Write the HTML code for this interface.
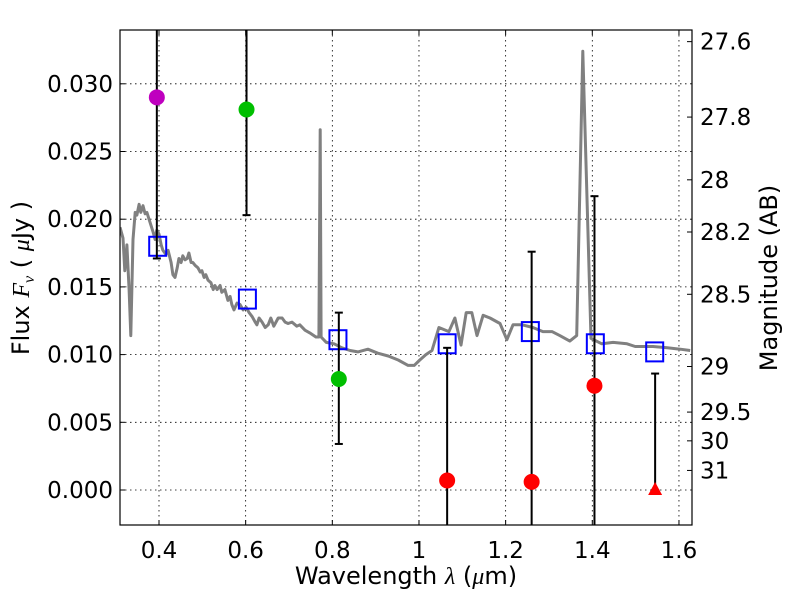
<!DOCTYPE html>
<html><head><meta charset="utf-8"><style>
html,body{margin:0;padding:0;background:#fff;}
svg{display:block;font-family:"DejaVu Sans","Liberation Sans",sans-serif;}
</style></head><body>
<svg id="chart" width="800" height="600" viewBox="0 0 800 600" xmlns="http://www.w3.org/2000/svg"></svg>
<script>
// ---- data ----
const xTicks = [0.4, 0.6, 0.8, 1.0, 1.2, 1.4, 1.6];
const xTickLabels = ["0.4", "0.6", "0.8", "1", "1.2", "1.4", "1.6"];
const yTicks = [0.000, 0.005, 0.010, 0.015, 0.020, 0.025, 0.030];
const yTickLabels = ["0.000", "0.005", "0.010", "0.015", "0.020", "0.025", "0.030"];
const magTicks = [27.6, 27.8, 28, 28.2, 28.5, 29, 29.5, 30, 31];
const magTickLabels = ["27.6", "27.8", "28", "28.2", "28.5", "29", "29.5", "30", "31"];

const specWave = [0.310,0.317,0.321,0.326,0.331,0.335,0.340,0.345,0.349,0.354,0.358,0.363,0.368,0.372,0.379,0.386,0.391,0.395,0.400,0.405,0.409,0.416,0.421,0.428,0.432,0.437,0.442,0.446,0.451,0.455,0.460,0.465,0.469,0.474,0.478,0.483,0.490,0.495,0.499,0.504,0.508,0.513,0.520,0.525,0.529,0.534,0.541,0.545,0.552,0.559,0.564,0.568,0.573,0.580,0.587,0.594,0.601,0.608,0.615,0.622,0.626,0.631,0.638,0.645,0.652,0.658,0.665,0.675,0.684,0.691,0.698,0.707,0.718,0.725,0.737,0.748,0.762,0.769,0.772,0.774,0.786,0.804,0.822,0.841,0.859,0.882,0.905,0.929,0.952,0.975,0.989,1.002,1.016,1.030,1.046,1.069,1.083,1.097,1.109,1.122,1.134,1.148,1.164,1.187,1.203,1.217,1.238,1.263,1.286,1.307,1.325,1.348,1.364,1.378,1.397,1.422,1.448,1.480,1.499,1.540,1.573,1.603,1.626];
const specFlux = [0.0194,0.0186,0.0162,0.0181,0.0148,0.0114,0.0185,0.0205,0.0203,0.0211,0.0205,0.0210,0.0204,0.0205,0.0198,0.0191,0.0185,0.0192,0.0189,0.0181,0.0177,0.0174,0.0177,0.0168,0.0159,0.0157,0.0164,0.0171,0.0168,0.0173,0.0170,0.0171,0.0175,0.0168,0.0168,0.0166,0.0164,0.0161,0.0162,0.0157,0.0159,0.0155,0.0153,0.0148,0.0151,0.0148,0.0151,0.0146,0.0148,0.0140,0.0143,0.0137,0.0133,0.0138,0.0137,0.0133,0.0135,0.0131,0.0128,0.0124,0.0122,0.0127,0.0124,0.0120,0.0122,0.0127,0.0121,0.0127,0.0127,0.0124,0.0123,0.0124,0.0121,0.0122,0.0118,0.0116,0.0113,0.0113,0.0266,0.0113,0.0109,0.0108,0.0105,0.0103,0.0102,0.0104,0.0101,0.0099,0.0096,0.0092,0.0092,0.0096,0.0100,0.0103,0.0120,0.0117,0.0127,0.0107,0.0131,0.0131,0.0114,0.0129,0.0127,0.0123,0.0111,0.0122,0.0122,0.0120,0.0117,0.0117,0.0114,0.0110,0.0114,0.0324,0.0112,0.0108,0.0109,0.0108,0.0106,0.0106,0.0105,0.0104,0.0103];

const modelWave = [0.397, 0.604, 0.813, 1.065, 1.257, 1.407, 1.544];
const modelFlux = [0.0180, 0.0141, 0.0111, 0.0108, 0.0117, 0.0108, 0.0102];

const obsWave = [0.395, 0.602, 0.815, 1.065, 1.260, 1.405, 1.545];
const obsFlux = [0.0290, 0.0281, 0.0082, 0.0007, 0.0006, 0.0077, 0.0000];
const obsErrHi = [0.0400, 0.0400, 0.0131, 0.0105, 0.0176, 0.0217, 0.0086];
const obsErrLo = [0.0171, 0.0203, 0.0034, -0.0100, -0.0100, -0.0100, 0.0000];
const obsColors = ["#bf00bf", "#00bf00", "#00bf00", "#ff0000", "#ff0000", "#ff0000", "#ff0000"];
const obsShapes = ["circle", "circle", "circle", "circle", "circle", "circle", "triangle"];

// ---- axes ----
const L = 120, R = 692, T = 30, B = 525;
const xs = v => 159 + (v - 0.4) * 433.3;
const ys = v => 490 - v * 13540;
const NS = "http://www.w3.org/2000/svg";
const svg = document.getElementById('chart');
function mk(tag, attrs, parent) {
  const e = document.createElementNS(NS, tag);
  for (const k in attrs) e.setAttribute(k, attrs[k]);
  (parent || svg).appendChild(e);
  return e;
}
const defs = mk('defs', {});
const cp = mk('clipPath', {id: 'clip'}, defs);
mk('rect', {x: L, y: T, width: R - L, height: B - T}, cp);

// grid
const grid = mk('g', {stroke: '#000', 'stroke-width': 0.8, 'stroke-dasharray': '1.5,3.5'});


xTicks.forEach(v => { mk('line', {x1: xs(v), x2: xs(v), y1: T, y2: B}, grid); });
yTicks.forEach(v => { mk('line', {x1: L, x2: R, y1: ys(v), y2: ys(v)}, grid); });

const plot = mk('g', {'clip-path': 'url(#clip)'});



// spectrum
let d = specWave.map((w, i) => (i ? 'L' : 'M') + xs(w).toFixed(1) + ',' + ys(specFlux[i]).toFixed(1)).join(' ');
const spec = mk('path', {d: d, fill: 'none', stroke: '#808080', 'stroke-width': 3, 'stroke-linejoin': 'round'}, plot);



// model squares
modelWave.forEach((w, i) => {
  const s = mk('rect', {x: xs(w) - 8.5, y: ys(modelFlux[i]) - 9.5, width: 17, height: 19, fill: 'none', stroke: '#0000ff', 'stroke-width': 2}, plot);
  
  
});

// error bars
obsWave.forEach((w, i) => {
  const g = mk('g', {stroke: '#000', 'stroke-width': 2}, plot);
  
  
  const x = xs(w);
  mk('line', {x1: x, x2: x, y1: ys(obsErrHi[i]), y2: ys(obsErrLo[i])}, g);
  mk('line', {x1: x - 4, x2: x + 4, y1: ys(obsErrHi[i]), y2: ys(obsErrHi[i])}, g);
  mk('line', {x1: x - 4, x2: x + 4, y1: ys(obsErrLo[i]), y2: ys(obsErrLo[i])}, g);
});

// observed points
obsWave.forEach((w, i) => {
  const x = xs(w), y = ys(obsFlux[i]);
  let p;
  if (obsShapes[i] === 'triangle') {
    p = mk('polygon', {points: `${x},${y - 8} ${x - 7},${y + 5} ${x + 7},${y + 5}`, fill: obsColors[i]}, plot);
  } else {
    p = mk('circle', {cx: x, cy: y, r: 8, fill: obsColors[i]}, plot);
  }
  
  
});

// frame
const frame = mk('rect', {x: L, y: T, width: R - L, height: B - T, fill: 'none', stroke: '#000', 'stroke-width': 1.2});



// ticks & labels
const FS = 23;
const tk = mk('g', {stroke: '#000', 'stroke-width': 1});


xTicks.forEach((v, i) => {
  mk('line', {x1: xs(v), x2: xs(v), y1: B, y2: B - 5}, tk);
  mk('line', {x1: xs(v), x2: xs(v), y1: T, y2: T + 5}, tk);
  const t = mk('text', {x: xs(v), y: 558, 'font-size': FS, 'text-anchor': 'middle', fill: '#000'});
  t.textContent = xTickLabels[i];
  
  
});
yTicks.forEach((v, i) => {
  mk('line', {x1: L, x2: L + 5, y1: ys(v), y2: ys(v)}, tk);
  const t = mk('text', {x: 113, y: ys(v) + 8, 'font-size': FS, 'text-anchor': 'end', fill: '#000'});
  t.textContent = yTickLabels[i];
  
  
});
magTicks.forEach((m, i) => {
  const f = Math.pow(10, (23.9 - m) / 2.5);
  const y = ys(f);
  mk('line', {x1: R, x2: R - 5, y1: y, y2: y}, tk);
  const t = mk('text', {x: 700, y: y + 8, 'font-size': FS, 'text-anchor': 'start', fill: '#000'});
  t.textContent = magTickLabels[i];
  
  
});

// axis titles
const xt = mk('text', {x: 406, y: 584, 'font-size': 24, 'text-anchor': 'middle', fill: '#000'});
xt.innerHTML = 'Wavelength  <tspan font-style="italic" font-family="Liberation Serif, serif">λ</tspan> (<tspan font-style="italic" font-family="Liberation Serif, serif">μ</tspan>m)';


const yt = mk('text', {x: 0, y: 0, 'font-size': 24, 'text-anchor': 'middle', fill: '#000', transform: 'translate(29,278) rotate(-90)'});
yt.innerHTML = 'Flux  <tspan font-style="italic" font-family="Liberation Serif, serif">F</tspan><tspan font-style="italic" font-family="Liberation Serif, serif" font-size="16" dy="5">ν</tspan><tspan dy="-5">  ( </tspan><tspan font-style="italic" font-family="Liberation Serif, serif">μ</tspan>Jy )';


const rt = mk('text', {x: 0, y: 0, 'font-size': 24, 'text-anchor': 'middle', fill: '#000', transform: 'translate(777,278) rotate(-90)'});
rt.textContent = 'Magnitude (AB)';


</script>
</body></html>
